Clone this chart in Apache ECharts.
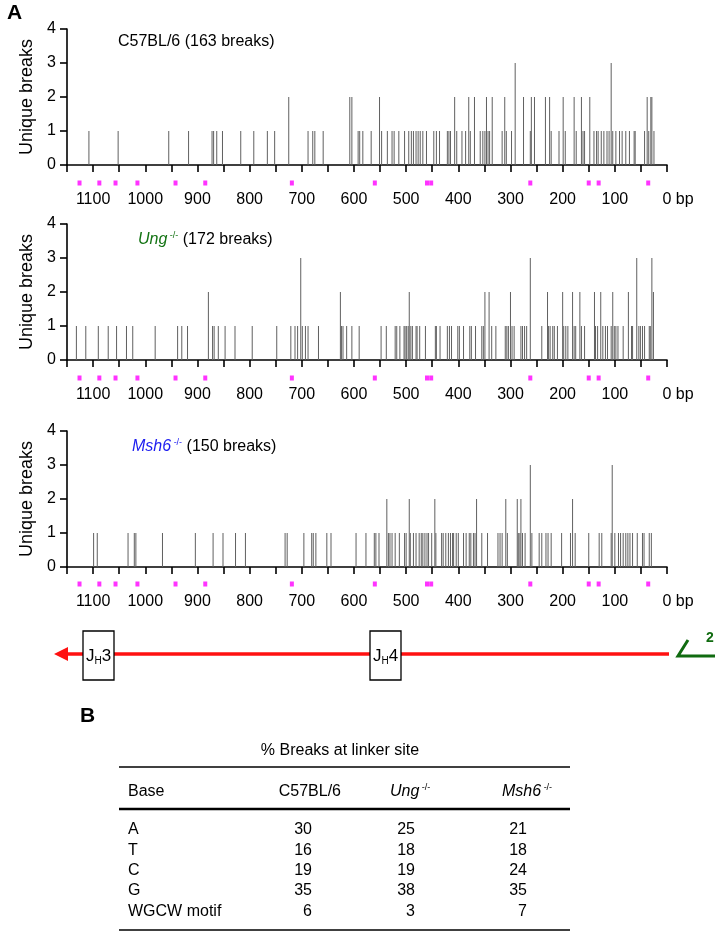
<!DOCTYPE html>
<html><head><meta charset="utf-8">
<script src="https://cdn.jsdelivr.net/npm/echarts@6/dist/echarts.min.js"></script>
<style>html,body{margin:0;padding:0;background:#fff}#c{width:715px;height:931px}</style>
</head><body><div id="c"></div>
<script>
// ---- data (positions in bp upstream of reference, counts = unique breaks) ----
const wtPos = [1108,1052,955,917,872,869,863,852,817,792,766,752,725,688,679,675,659,608,604,592,589,583,567,551,547,536,527,523,514,503,495,490,486,481,477,473,468,461,447,442,436,421,418,415,407,403,393,386,380,377,369,358,353,349,346,343,340,335,316,311,308,298,291,275,262,260,254,233,225,222,207,199,195,178,174,164,161,158,148,140,135,132,126,121,115,111,107,104,98,91,86,79,72,63,61,43,38,35,31,29,25];
const wtCnt = [1,1,1,1,1,1,1,1,1,1,1,1,2,1,1,1,1,2,2,1,1,1,1,2,1,1,1,1,1,1,1,1,1,1,1,1,1,1,1,1,1,1,1,1,2,1,1,1,2,1,2,1,1,1,2,1,1,2,1,2,1,1,3,2,1,2,2,2,2,1,1,2,1,2,1,2,1,1,2,1,1,1,1,1,1,1,3,1,1,1,1,1,1,1,1,1,2,1,2,2,1];
const ungPos = [1132,1114,1090,1071,1055,1036,1024,981,938,930,919,879,871,868,860,847,828,795,748,721,713,708,702,699,693,688,668,626,624,621,614,604,590,548,538,521,518,512,504,502,499,496,494,491,488,481,479,474,463,444,442,435,421,417,413,401,398,390,378,375,367,355,352,349,341,336,328,310,307,304,300,297,293,280,277,273,269,262,240,229,227,224,219,216,210,200,198,194,190,181,178,175,167,164,158,139,137,133,127,123,118,114,107,104,101,98,94,84,74,68,66,58,54,51,47,43,34,32,29,26];
const ungCnt = [1,1,1,1,1,1,1,1,1,1,1,2,1,1,1,1,1,1,1,1,1,1,3,1,1,1,1,2,1,1,1,1,1,1,1,1,1,1,1,1,1,1,2,1,1,1,1,1,1,1,1,1,1,1,1,1,1,1,1,1,1,1,1,2,2,1,1,1,1,1,2,1,1,1,1,1,1,3,1,2,1,1,1,1,1,2,1,1,1,2,1,1,2,1,1,2,1,1,2,1,1,1,1,2,1,1,1,1,2,1,1,3,1,1,1,1,1,1,3,2];
const msh6Pos = [1099,1092,1033,1021,1018,967,904,870,851,827,808,732,728,696,681,678,673,652,644,596,577,561,558,552,537,534,531,527,521,513,503,500,494,492,486,481,475,471,468,464,460,457,451,445,443,432,429,424,419,415,411,409,404,400,390,385,379,376,371,368,365,355,344,324,320,316,309,306,287,285,282,280,277,272,262,259,245,240,232,228,222,202,185,181,176,150,130,125,107,105,100,93,89,84,79,75,71,66,57,47,44,34,30];
const msh6Cnt = [1,1,1,1,1,1,1,1,1,1,1,1,1,1,1,1,1,1,1,1,1,1,1,1,2,1,1,1,1,1,1,1,2,1,1,1,1,1,1,1,1,1,1,2,1,1,1,1,1,1,1,1,1,1,1,1,1,1,1,1,2,1,1,1,1,1,2,1,2,1,1,2,1,1,3,1,1,1,1,1,1,1,1,2,1,1,1,1,1,3,1,1,1,1,1,1,1,1,1,1,1,1,1];
const motifPos = [1126,1088,1057,1015,942,885,719,560,460,452,262,150,131,36];
const panelTitles = ['C57BL/6', 'Ung', 'Msh6'];
const panelBreaks = [163, 172, 150];
const yTicks = [0, 1, 2, 3, 4];
// table B
const tableBases = ['A', 'T', 'C', 'G', 'WGCW motif'];
const colWT = [30, 16, 19, 35, 6];
const colUng = [25, 18, 19, 38, 3];
const colMsh6 = [21, 18, 24, 35, 7];

const FONT = "'Liberation Sans', Arial, Helvetica, sans-serif";
const chart = echarts.init(document.getElementById('c'), null, {renderer: 'canvas'});

const pairs = (p, c) => p.map((x, i) => [x, c[i]]);
const mainTops = [29, 224, 431];
const mainH = 136;
const motifTops = [179, 374, 580];

const grids = [];
const xAxes = [];
const yAxes = [];
const series = [];
const dataSets = [pairs(wtPos, wtCnt), pairs(ungPos, ungCnt), pairs(msh6Pos, msh6Cnt)];

mainTops.forEach((t, i) => {
  grids.push({left: 67, right: 48, top: t, height: mainH});
  xAxes.push({
    gridIndex: i, type: 'value', min: 0, max: 1150, interval: 50, inverse: true,
    axisLine: {show: true, onZero: false, lineStyle: {color: '#000', width: 1.6}},
    axisTick: {show: true, length: 7, lineStyle: {color: '#000', width: 1.6}},
    splitLine: {show: false},
    axisLabel: {
      margin: 27, fontSize: 16, color: '#000', fontFamily: FONT,
      showMinLabel: true, showMaxLabel: true,
      formatter: v => v === 0 ? '{z|0 bp}' : (v % 100 === 0 ? String(v) : ''),
      rich: {z: {fontSize: 16, fontFamily: FONT, color: '#000', padding: [0, 0, 0, 22]}}
    }
  });
  yAxes.push({
    gridIndex: i, type: 'value', min: 0, max: 4, interval: 1, position: 'left',
    name: 'Unique breaks', nameLocation: 'middle', nameGap: 25,
    nameTextStyle: {fontSize: 18, fontFamily: FONT, color: '#000'},
    axisLine: {show: true, onZero: false, lineStyle: {color: '#000', width: 1.6}},
    axisTick: {show: true, length: 7, lineStyle: {color: '#000', width: 1.6}},
    splitLine: {show: false},
    axisLabel: {margin: 11, fontSize: 16, color: '#000', fontFamily: FONT,
      formatter: v => yTicks.includes(v) ? String(v) : ''}
  });
  series.push({
    type: 'bar', xAxisIndex: i, yAxisIndex: i, data: dataSets[i],
    barWidth: 1, itemStyle: {color: '#606060'}, silent: true, large: false
  });
});
motifTops.forEach((t, j) => {
  const gi = 3 + j;
  grids.push({left: 67, right: 48, top: t, height: 8});
  xAxes.push({gridIndex: gi, type: 'value', min: 0, max: 1150, inverse: true, show: false});
  yAxes.push({gridIndex: gi, type: 'value', min: 0, max: 1, show: false});
  series.push({
    type: 'scatter', xAxisIndex: gi, yAxisIndex: gi,
    data: motifPos.map(p => [p, 0.5]), symbol: 'rect', symbolSize: [4, 5],
    itemStyle: {color: '#ff00ff'}, silent: true, clip: false
  });
});

const sup = (c) => ({fontSize: 9, fontFamily: FONT, color: c, verticalAlign: 'top', lineHeight: 18});
const graphic = [];
// panel letters
graphic.push({type: 'text', left: 7, top: 3, style: {text: 'A', font: 'bold 21px ' + FONT, fill: '#000'}});
graphic.push({type: 'text', left: 80, top: 706, style: {text: 'B', font: 'bold 21px ' + FONT, fill: '#000'}});
// panel titles
const titleCols = ['#000', '#137313', '#1c1cf0'];
const titleX = [118, 138, 132];
const titleY = [42, 240, 447];
panelTitles.forEach((t, i) => {
  let text;
  if (i === 0) {
    text = '{n|' + t + ' (' + panelBreaks[i] + ' breaks)}';
  } else {
    text = '{g|' + t + '}{s| -/-}{n| (' + panelBreaks[i] + ' breaks)}';
  }
  graphic.push({type: 'text', x: titleX[i], y: titleY[i], style: {
    text, verticalAlign: 'middle',
    rich: {
      n: {fontSize: 16, fontFamily: FONT, fill: '#000', lineHeight: 18},
      g: {fontSize: 16, fontFamily: FONT, fontStyle: 'italic', fill: titleCols[i], lineHeight: 18},
      s: Object.assign(sup(titleCols[i]), {fill: titleCols[i]})
    }
  }});
});
// gene map
graphic.push({type: 'line', shape: {x1: 669, y1: 654, x2: 64, y2: 654}, style: {stroke: '#ff1111', lineWidth: 3.5}});
graphic.push({type: 'polygon', shape: {points: [[54, 654], [68, 647], [68, 661]]}, style: {fill: '#ff1111'}});
[[83, '3'], [370, '4']].forEach(([bx, n]) => {
  graphic.push({type: 'rect', shape: {x: bx, y: 631, width: 31, height: 49}, style: {fill: '#fff', stroke: '#000', lineWidth: 1.3}});
  graphic.push({type: 'text', x: bx + 15.5, y: 656, style: {
    text: '{a|J}{b|H}{a|' + n + '}', align: 'center', verticalAlign: 'middle',
    rich: {a: {fontSize: 17, fontFamily: FONT, fill: '#000', lineHeight: 20},
           b: {fontSize: 10, fontFamily: FONT, fill: '#000', verticalAlign: 'bottom', lineHeight: 14}}
  }});
});
graphic.push({type: 'polyline', shape: {points: [[688, 640], [678, 656], [715, 656]]}, style: {stroke: '#106b10', lineWidth: 3, fill: null}});
graphic.push({type: 'text', x: 706, y: 638, style: {text: '2', font: 'bold 14px ' + FONT, fill: '#106b10', verticalAlign: 'middle'}});

// table
graphic.push({type: 'text', x: 340, y: 751, style: {text: '% Breaks at linker site', font: '16px ' + FONT, fill: '#000', align: 'center', verticalAlign: 'middle'}});
graphic.push({type: 'line', shape: {x1: 119, y1: 767, x2: 570, y2: 767}, style: {stroke: '#000', lineWidth: 1.3}});
graphic.push({type: 'line', shape: {x1: 119, y1: 809, x2: 570, y2: 809}, style: {stroke: '#000', lineWidth: 2.5}});
graphic.push({type: 'line', shape: {x1: 119, y1: 930, x2: 570, y2: 930}, style: {stroke: '#000', lineWidth: 1.3}});
graphic.push({type: 'text', x: 128, y: 792, style: {text: 'Base', font: '16px ' + FONT, fill: '#000', verticalAlign: 'middle'}});
graphic.push({type: 'text', x: 341, y: 792, style: {text: 'C57BL/6', font: '16px ' + FONT, fill: '#000', align: 'right', verticalAlign: 'middle'}});
[[390, 'Ung'], [502, 'Msh6']].forEach(([hx, t]) => {
  graphic.push({type: 'text', x: hx, y: 792, style: {text: '{g|' + t + '}{s| -/-}', verticalAlign: 'middle',
    rich: {g: {fontSize: 16, fontFamily: FONT, fontStyle: 'italic', fill: '#000', lineHeight: 18}, s: Object.assign(sup('#000'), {fill: '#000'})}}});
});
const rowY = [830, 851, 871, 891, 912];
tableBases.forEach((b, r) => {
  graphic.push({type: 'text', x: 128, y: rowY[r], style: {text: b, font: '16px ' + FONT, fill: '#000', verticalAlign: 'middle'}});
  [[312, colWT], [415, colUng], [527, colMsh6]].forEach(([cx, col]) => {
    graphic.push({type: 'text', x: cx, y: rowY[r], style: {text: String(col[r]), font: '16px ' + FONT, fill: '#000', align: 'right', verticalAlign: 'middle'}});
  });
});

chart.setOption({animation: false, backgroundColor: '#fff', grid: grids, xAxis: xAxes, yAxis: yAxes, series, graphic});
</script></body></html>
